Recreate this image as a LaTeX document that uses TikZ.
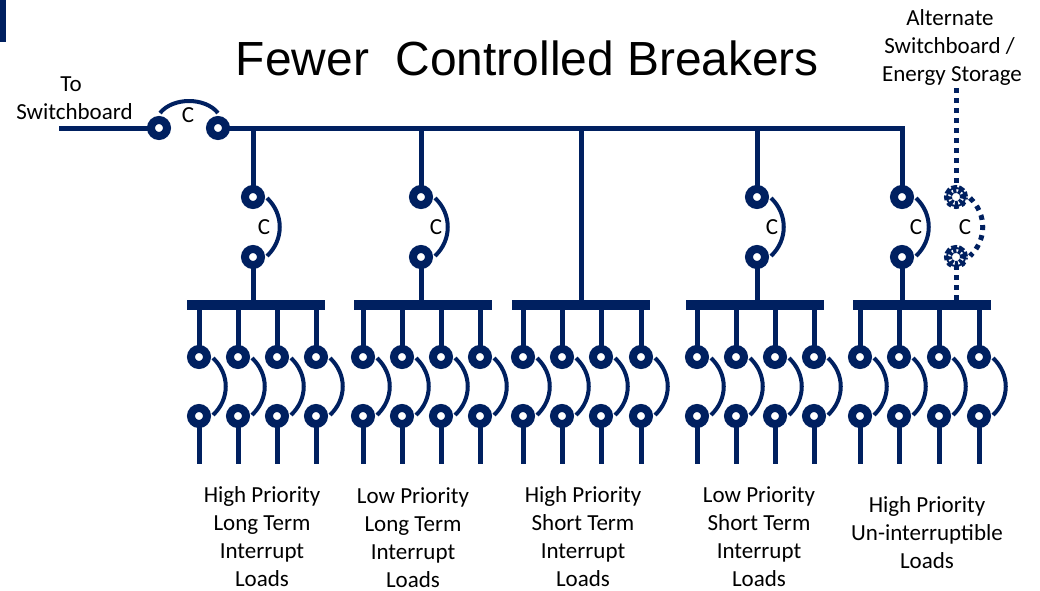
\documentclass[tikz,border=0pt]{standalone}
\usepackage{fontspec}
\setmainfont{Carlito}
\newfontfamily\titlefont{Liberation Sans}
\definecolor{navy}{HTML}{002060}
\tikzset{
  term/.style={circle,draw=navy,line width=8pt,fill=white,minimum size=16pt,inner sep=0pt,outer sep=0pt},
  gearterm/.style={term,preaction={draw=navy,solid,line width=4pt},dash pattern=on 3.8pt off 2.2pt},
  busbar/.style={rectangle,fill=navy,minimum width=138pt,minimum height=10pt,inner sep=0pt,outer sep=0pt},
  wire/.style={draw=navy,line width=5pt},
  dotwire/.style={draw=navy,line width=5pt,dash pattern=on 5pt off 5pt},
  swing/.style={draw=navy,line width=4pt},
  dotswing/.style={draw=navy,line width=5pt,dash pattern=on 5pt off 5.2pt},
  lab/.style={font=\fontsize{23}{28}\selectfont,align=center,text=black,inner sep=0pt},
  clab/.style={font=\fontsize{23}{28}\selectfont,text=black,inner sep=0pt},
}
\begin{document}
\begin{tikzpicture}[x=1pt,y=-1pt]
\useasboundingbox (0,0) rectangle (1040,590);
\fill[navy] (0,0) rectangle (6,42);
\node[font=\titlefont\fontsize{47.9}{52}\selectfont,inner sep=0pt] (title) at (527.5,58) {Fewer\ \ Controlled Breakers};
% labels
\node[lab] (tosw) at (74.5,98) {To\kern7pt\\Switchboard};
\node[lab] (alt) at (952,47) {Alternate\kern4pt\\Switchboard /\kern5pt\\Energy Storage};
\node[lab] (l1) at (262,537) {High Priority\\Long Term\\Interrupt\\Loads};
\node[lab] (l2) at (413,538) {Low Priority\\Long Term\\Interrupt\\Loads};
\node[lab] (l3) at (583,537) {High Priority\\Short Term\\Interrupt\\Loads};
\node[lab] (l4) at (759,537) {Low Priority\\Short Term\\Interrupt\\Loads};
\node[lab] (l5) at (927,533) {High Priority\\Un-interruptible\\Loads};
% main line
\coordinate (src) at (59,128);
\coordinate (mainend) at (902,128);
\coordinate (j1) at (253,128);
\coordinate (j2) at (421,128);
\coordinate (j3) at (581,128);
\coordinate (j4) at (757,128);
\coordinate (j5) at (902,128);
\draw[wire] (src) -- (159,128);
\draw[wire,line cap=rect] (218,128) -- (mainend);
% buses
\node[busbar] (b1) at (256,305) {};
\node[busbar] (b2) at (423,305) {};
\node[busbar] (b3) at (581,305) {};
\node[busbar] (b4) at (755,305) {};
\node[busbar] (b5) at (922,305) {};
\node[term] (ma) at (159,128) {};
\node[term] (mb) at (218,128) {};
\draw[swing] ([shift={(1,-15)}]ma.center) .. controls +(13,-16) and +(-13,-16) .. ([shift={(0,-15)}]mb.center);
\node[clab] (cm) at (188,115) {C};
% feeder breakers
\foreach \n/\x/\cx in {1/253/264,2/421/436,4/757/772,5/902/916}{
  \draw[wire] (j\n) -- (\x,197);
  \draw[wire] (\x,257) -- (\x,305);
  \node[term] (u\n) at (\x,197) {};
  \node[term] (v\n) at (\x,257) {};
  \draw[swing] ([shift={(14,1)}]u\n.center) .. controls +(17,16) and +(17,-16) .. ([shift={(14,-1)}]v\n.center);
  \node[clab] (c\n) at (\cx,227) {C};
}
% direct feeder
\draw[wire] (j3) -- (j3 |- b3.north);
% alternate feed
\coordinate (altTop) at (956,88);
\node[gearterm] (ua) at (956,197) {};
\node[gearterm] (va) at (956,257) {};
\draw[dotwire] (altTop) -- (ua);
\draw[dotwire] (va) -- (va |- b5.south);
\draw[dotswing] ([shift={(14,1)}]ua.center) .. controls +(17,16) and +(17,-16) .. ([shift={(14,-1)}]va.center);
\node[clab] (ca) at (965,227) {C};
% load breakers
\foreach \g/\xa/\xb/\xc/\xd in {1/199/238/277/316,2/363/402/441/480,3/523/562/601/641,4/697/736/775/814,5/860/899/939/979}{
  \foreach \k/\x in {1/\xa,2/\xb,3/\xc,4/\xd}{
    \coordinate (e\g\k) at (\x,464);
    \draw[wire] (\x,357) -- (\x,305);
    \draw[wire] (\x,416) -- (e\g\k);
    \node[term] (s\g\k) at (\x,357) {};
    \node[term] (r\g\k) at (\x,416) {};
    \draw[swing] ([shift={(14,1)}]s\g\k.center) .. controls +(17,16) and +(17,-16) .. ([shift={(14,-1)}]r\g\k.center);
  }
}
\end{tikzpicture}
\end{document}
